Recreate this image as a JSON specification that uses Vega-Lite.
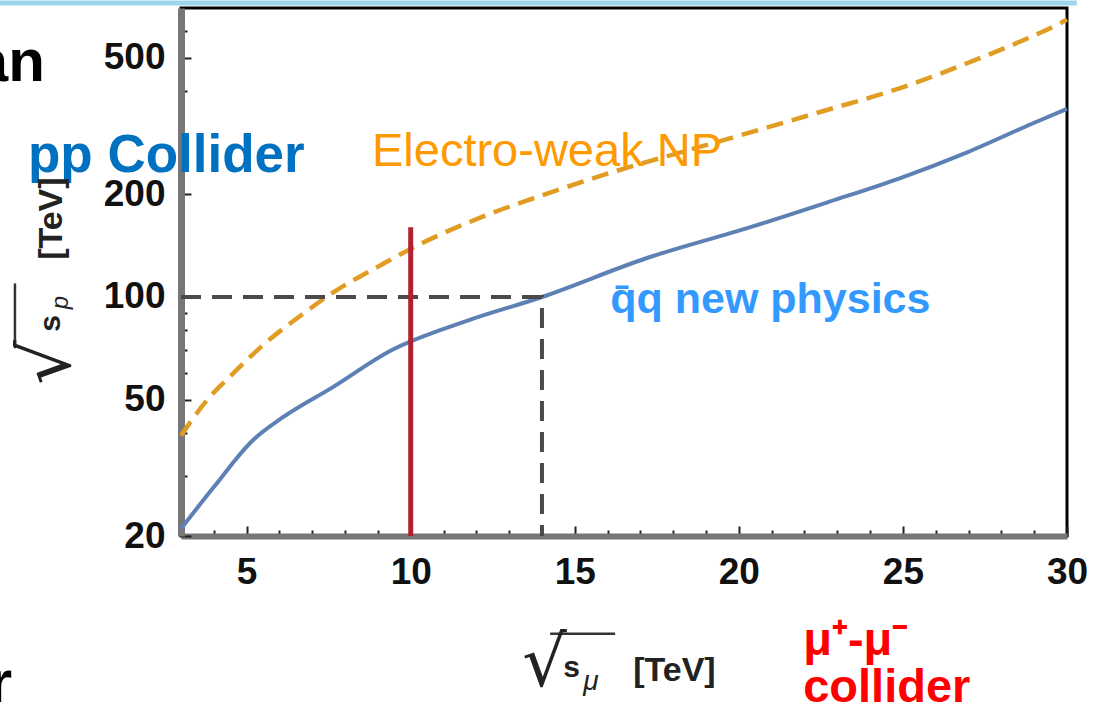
{
  "$schema": "https://vega.github.io/schema/vega-lite/v6.json",
  "width": 886,
  "height": 528,
  "autosize": "none",
  "padding": {"left": 181, "top": 8, "right": 34, "bottom": 174},
  "background": "white",
  "config": {
    "view": {"stroke": "black", "strokeWidth": 3},
    "axis": {"grid": false, "labelFont": "Liberation Sans", "labelFontWeight": "bold", "labelFontSize": 37, "labelColor": "#111", "labelOverlap": false, "title": null},
    "text": {"font": "Liberation Sans"}
  },
  "datasets": {
    "curves": [
      {"x": 3, "y": 21, "series": "qq"},
      {"x": 4, "y": 27.8, "series": "qq"},
      {"x": 5.19, "y": 38.1, "series": "qq"},
      {"x": 6.11, "y": 44.5, "series": "qq"},
      {"x": 7.63, "y": 54.5, "series": "qq"},
      {"x": 9.37, "y": 69.5, "series": "qq"},
      {"x": 11.69, "y": 85, "series": "qq"},
      {"x": 14, "y": 100, "series": "qq"},
      {"x": 17.2, "y": 130, "series": "qq"},
      {"x": 20.35, "y": 160, "series": "qq"},
      {"x": 22.76, "y": 190, "series": "qq"},
      {"x": 24.88, "y": 222, "series": "qq"},
      {"x": 26.92, "y": 264, "series": "qq"},
      {"x": 28.93, "y": 321, "series": "qq"},
      {"x": 30, "y": 355, "series": "qq"},
      {"x": 3, "y": 39.3, "series": "ew"},
      {"x": 3.79, "y": 49.9, "series": "ew"},
      {"x": 4.59, "y": 59.8, "series": "ew"},
      {"x": 5.62, "y": 74, "series": "ew"},
      {"x": 6.63, "y": 88, "series": "ew"},
      {"x": 7.63, "y": 103, "series": "ew"},
      {"x": 9.16, "y": 125, "series": "ew"},
      {"x": 9.98, "y": 138, "series": "ew"},
      {"x": 12.21, "y": 172, "series": "ew"},
      {"x": 14.25, "y": 202, "series": "ew"},
      {"x": 16.29, "y": 234, "series": "ew"},
      {"x": 18.3, "y": 266, "series": "ew"},
      {"x": 19.83, "y": 293, "series": "ew"},
      {"x": 22.27, "y": 343, "series": "ew"},
      {"x": 25.23, "y": 418, "series": "ew"},
      {"x": 26.96, "y": 483, "series": "ew"},
      {"x": 28.79, "y": 570, "series": "ew"},
      {"x": 29.7, "y": 625, "series": "ew"},
      {"x": 30, "y": 648, "series": "ew"}
    ],
    "guide": [
      {"x": 3, "y": 100, "k": 0},
      {"x": 14, "y": 100, "k": 1},
      {"x": 14, "y": 20, "k": 2}
    ],
    "texts": [
      {"id": "pp", "x": -1.665, "y": 232, "label": "pp Collider"},
      {"id": "ew", "x": 8.82, "y": 242, "label": "Electro-weak NP"},
      {"id": "qq", "x": 16.08, "y": 89.5, "label": "q̄q new physics"},
      {"id": "an", "x": -1.15, "y": 429, "label": "an"},
      {"id": "r", "x": -2.15, "y": 6.55, "label": "r"},
      {"id": "mu", "x": 21.96, "y": 9.0, "label": "μ⁺-μ⁻"},
      {"id": "col", "x": 21.96, "y": 6.55, "label": "collider"},
      {"id": "xtev", "x": 16.78, "y": 7.55, "label": "[TeV]"},
      {"id": "xs", "x": 14.65, "y": 7.75, "label": "s"},
      {"id": "xmu", "x": 15.26, "y": 7.1, "label": "μ"},
      {"id": "xrad", "x": 13.4, "y": 7.3, "label": "√"},
      {"id": "ytev", "x": -0.628, "y": 169.5, "label": "[TeV]"},
      {"id": "ys", "x": -0.689, "y": 83.7, "label": "s"},
      {"id": "yp", "x": -0.445, "y": 96.3, "label": "p"},
      {"id": "yrad", "x": -0.384, "y": 64.4, "label": "√"}
    ]
  },
  "layer": [
    {
      "data": {"name": "curves"},
      "transform": [{"filter": "datum.series === 'qq'"}],
      "mark": {"type": "line", "color": "#5E81B5", "strokeWidth": 4, "interpolate": "monotone"},
      "encoding": {
        "x": {
          "field": "x", "type": "quantitative",
          "scale": {"domain": [3, 30], "nice": false, "zero": false},
          "axis": {
            "orient": "bottom",
            "values": [4,5,6,7,8,9,10,11,12,13,14,15,16,17,18,19,20,21,22,23,24,25,26,27,28,29,30],
            "tickCount": 40,
            "format": "d",
            "labelExpr": "indexof([5,10,15,20,25,30], datum.value) >= 0 ? datum.label : ''",
            "labelOverlap": false,
            "labelBound": false,
            "labelFlush": false,
            "tickSize": {"condition": {"test": "indexof([5,10,15,20,25,30], datum.value) >= 0", "value": -10}, "value": -6},
            "tickColor": "#222", "tickWidth": 2,
            "domainColor": "#777", "domainWidth": 6,
            "labelPadding": 28
          }
        },
        "y": {
          "field": "y", "type": "quantitative",
          "scale": {"type": "log", "domain": [20, 700], "nice": false},
          "axis": {
            "orient": "left",
            "values": [20,30,40,50,60,70,80,90,100,200,300,400,500,600],
            "tickCount": 40,
            "format": "d",
            "labelOverlap": false,
            "labelExpr": "indexof([20,50,100,200,500], datum.value) >= 0 ? datum.label : ''",
            "tickSize": {"condition": {"test": "indexof([20,50,100,200,500], datum.value) >= 0", "value": -10}, "value": -6},
            "tickColor": "#222", "tickWidth": 2,
            "domainColor": "#777", "domainWidth": 7,
            "labelPadding": 26
          }
        }
      }
    },
    {
      "data": {"values": [{"x": -2.52, "x2": 30.3, "y": 724}]},
      "mark": {"type": "rule", "color": "#9DD5EA", "strokeWidth": 5},
      "encoding": {
        "x": {"field": "x", "type": "quantitative"},
        "x2": {"field": "x2"},
        "y": {"field": "y", "type": "quantitative"}
      }
    },
    {
      "data": {"name": "curves"},
      "transform": [{"filter": "datum.series === 'ew'"}],
      "mark": {"type": "line", "color": "#E19C24", "strokeWidth": 4.5, "strokeDash": [17, 9], "interpolate": "monotone"},
      "encoding": {
        "x": {"field": "x", "type": "quantitative"},
        "y": {"field": "y", "type": "quantitative"}
      }
    },
    {
      "data": {"name": "guide"},
      "mark": {"type": "line", "color": "#4a4a4a", "strokeWidth": 4, "strokeDash": [20, 11]},
      "encoding": {
        "x": {"field": "x", "type": "quantitative"},
        "y": {"field": "y", "type": "quantitative"},
        "order": {"field": "k"}
      }
    },
    {
      "data": {"values": [{"x": 10, "y": 20, "y2": 160}]},
      "mark": {"type": "rule", "color": "#B0232E", "strokeWidth": 5},
      "encoding": {
        "x": {"field": "x", "type": "quantitative"},
        "y": {"field": "y", "type": "quantitative"},
        "y2": {"field": "y2"}
      }
    },
    {
      "data": {"values": [{"x": 14.25, "x2": 16.23, "y": 10.35}]},
      "mark": {"type": "rule", "color": "#333", "strokeWidth": 2.5},
      "encoding": {
        "x": {"field": "x", "type": "quantitative"},
        "x2": {"field": "x2"},
        "y": {"field": "y", "type": "quantitative"}
      }
    },
    {
      "data": {"values": [{"x": -2.06, "y": 70.8, "y2": 109.6}]},
      "mark": {"type": "rule", "color": "#333", "strokeWidth": 2.5},
      "encoding": {
        "x": {"field": "x", "type": "quantitative"},
        "y": {"field": "y", "type": "quantitative"},
        "y2": {"field": "y2"}
      }
    },
    {
      "data": {"name": "texts"},
      "transform": [{"filter": "datum.id === 'pp'"}],
      "mark": {"type": "text", "align": "left", "baseline": "alphabetic", "fontSize": 53, "fontWeight": "bold", "color": "#0070C0"},
      "encoding": {"x": {"field": "x", "type": "quantitative"}, "y": {"field": "y", "type": "quantitative"}, "text": {"field": "label"}}
    },
    {
      "data": {"name": "texts"},
      "transform": [{"filter": "datum.id === 'ew'"}],
      "mark": {"type": "text", "align": "left", "baseline": "alphabetic", "fontSize": 47, "color": "#FF9900"},
      "encoding": {"x": {"field": "x", "type": "quantitative"}, "y": {"field": "y", "type": "quantitative"}, "text": {"field": "label"}}
    },
    {
      "data": {"name": "texts"},
      "transform": [{"filter": "datum.id === 'qq'"}],
      "mark": {"type": "text", "align": "left", "baseline": "alphabetic", "fontSize": 43, "fontWeight": "bold", "color": "#3399FF"},
      "encoding": {"x": {"field": "x", "type": "quantitative"}, "y": {"field": "y", "type": "quantitative"}, "text": {"field": "label"}}
    },
    {
      "data": {"name": "texts"},
      "transform": [{"filter": "datum.id === 'an' || datum.id === 'r'"}],
      "mark": {"type": "text", "align": "right", "baseline": "alphabetic", "fontSize": 60, "fontWeight": "bold", "color": "#000"},
      "encoding": {"x": {"field": "x", "type": "quantitative"}, "y": {"field": "y", "type": "quantitative"}, "text": {"field": "label"}}
    },
    {
      "data": {"name": "texts"},
      "transform": [{"filter": "datum.id === 'mu' || datum.id === 'col'"}],
      "mark": {"type": "text", "align": "left", "baseline": "alphabetic", "fontSize": 47, "fontWeight": "bold", "color": "#FF0000"},
      "encoding": {"x": {"field": "x", "type": "quantitative"}, "y": {"field": "y", "type": "quantitative"}, "text": {"field": "label"}}
    },
    {
      "data": {"name": "texts"},
      "transform": [{"filter": "datum.id === 'xtev'"}],
      "mark": {"type": "text", "align": "left", "baseline": "alphabetic", "fontSize": 34, "fontWeight": "bold", "color": "#222"},
      "encoding": {"x": {"field": "x", "type": "quantitative"}, "y": {"field": "y", "type": "quantitative"}, "text": {"field": "label"}}
    },
    {
      "data": {"name": "texts"},
      "transform": [{"filter": "datum.id === 'xs'"}],
      "mark": {"type": "text", "align": "left", "baseline": "alphabetic", "fontSize": 30, "fontWeight": "bold", "color": "#222"},
      "encoding": {"x": {"field": "x", "type": "quantitative"}, "y": {"field": "y", "type": "quantitative"}, "text": {"field": "label"}}
    },
    {
      "data": {"name": "texts"},
      "transform": [{"filter": "datum.id === 'xmu'"}],
      "mark": {"type": "text", "align": "left", "baseline": "alphabetic", "fontSize": 28, "fontStyle": "italic", "color": "#222"},
      "encoding": {"x": {"field": "x", "type": "quantitative"}, "y": {"field": "y", "type": "quantitative"}, "text": {"field": "label"}}
    },
    {
      "data": {"name": "texts"},
      "transform": [{"filter": "datum.id === 'xrad'"}],
      "mark": {"type": "text", "align": "left", "baseline": "alphabetic", "fontSize": 70, "font": "DejaVu Sans", "color": "#222"},
      "encoding": {"x": {"field": "x", "type": "quantitative"}, "y": {"field": "y", "type": "quantitative"}, "text": {"field": "label"}}
    },
    {
      "data": {"name": "texts"},
      "transform": [{"filter": "datum.id === 'ytev'"}],
      "mark": {"type": "text", "align": "center", "baseline": "alphabetic", "angle": 270, "fontSize": 34, "fontWeight": "bold", "color": "#222"},
      "encoding": {"x": {"field": "x", "type": "quantitative"}, "y": {"field": "y", "type": "quantitative"}, "text": {"field": "label"}}
    },
    {
      "data": {"name": "texts"},
      "transform": [{"filter": "datum.id === 'ys'"}],
      "mark": {"type": "text", "align": "center", "baseline": "alphabetic", "angle": 270, "fontSize": 30, "fontWeight": "bold", "color": "#222"},
      "encoding": {"x": {"field": "x", "type": "quantitative"}, "y": {"field": "y", "type": "quantitative"}, "text": {"field": "label"}}
    },
    {
      "data": {"name": "texts"},
      "transform": [{"filter": "datum.id === 'yp'"}],
      "mark": {"type": "text", "align": "center", "baseline": "alphabetic", "angle": 270, "fontSize": 24, "fontStyle": "italic", "color": "#222"},
      "encoding": {"x": {"field": "x", "type": "quantitative"}, "y": {"field": "y", "type": "quantitative"}, "text": {"field": "label"}}
    },
    {
      "data": {"name": "texts"},
      "transform": [{"filter": "datum.id === 'yrad'"}],
      "mark": {"type": "text", "align": "center", "baseline": "alphabetic", "angle": 270, "fontSize": 70, "font": "DejaVu Sans", "color": "#222"},
      "encoding": {"x": {"field": "x", "type": "quantitative"}, "y": {"field": "y", "type": "quantitative"}, "text": {"field": "label"}}
    }
  ]
}
